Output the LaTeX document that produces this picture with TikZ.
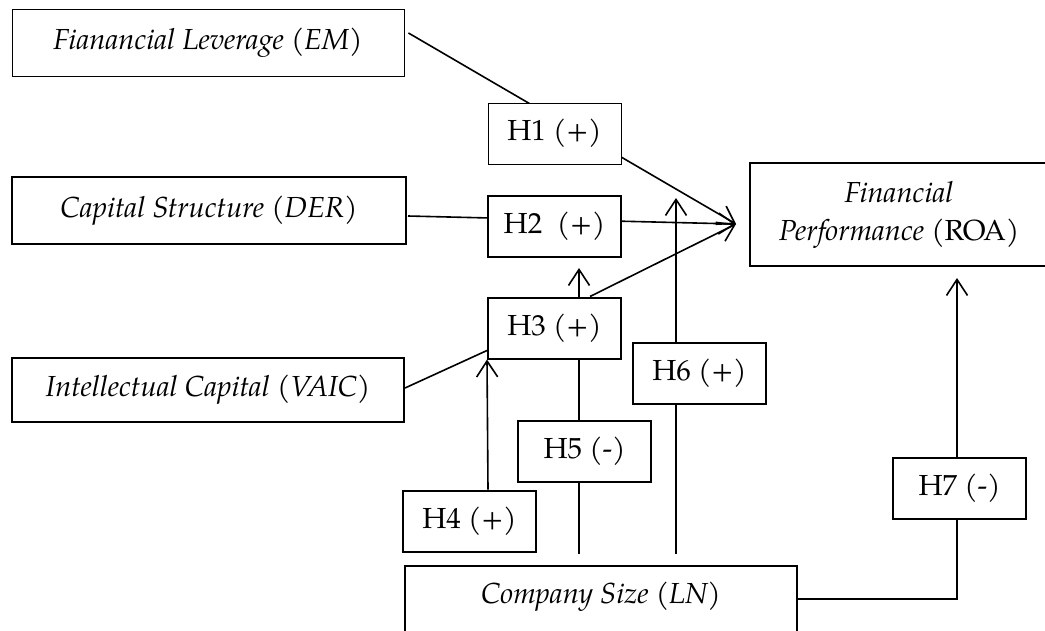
\documentclass[tikz,border=0pt]{standalone}
\usepackage{fontspec}
\setmainfont{TeX Gyre Pagella}
\usetikzlibrary{arrows.meta,backgrounds}
\begin{document}
\begin{tikzpicture}[x=1pt,y=-1pt,
  box/.style={draw, line width=2pt, fill=white, inner sep=0pt, align=center,
    font=\fontsize{29}{38}\selectfont},
  thinbox/.style={box, line width=0.9pt},
  hbox/.style={minimum width=133pt, minimum height=61pt},
  conn/.style={line width=1.6pt},
  arr/.style={conn, -{Straight Barb[length=16pt,width=21pt,line width=1.6pt]}}
]
\useasboundingbox (0,0) rectangle (1045,630);
\node[thinbox, minimum width=392pt, minimum height=67pt] (EM) at (208,42.5) {\textit{Fianancial Leverage (EM)}};
\node[box, minimum width=394pt, minimum height=67pt] (DER) at (209,210.5) {\textit{Capital Structure (DER)}};
\node[box, minimum width=392pt, minimum height=64pt] (VAIC) at (208,390) {\textit{Intellectual Capital (VAIC)}};
\node[thinbox, hbox] (H1) at (554.5,133.5) {H1 (+)};
\node[box, hbox] (H2) at (554.5,226.5) {H2\ \ (+)};
\node[box, hbox] (H3) at (554.5,328) {H3 (+)};
\node[box, hbox] (H4) at (469.5,521) {H4 (+)};
\node[box, hbox] (H5) at (584.5,451.5) {H5 (-)};
\node[box, hbox] (H6) at (699.5,373) {H6 (+)};
\node[box, hbox] (H7) at (959.5,488) {H7 (-)};
\node[box, minimum width=298pt, minimum height=103pt] (FP) at (899,214.5) {\textit{Financial}\\\textit{Performance} (ROA)};
\node[box, minimum width=392pt, text height=37pt, text depth=59pt, anchor=base] (CS) at (601,603) {\textit{Company Size (LN)}};
\coordinate (tip) at (736,224);
\coordinate (h6tip) at (676,198);
\coordinate (h7tip) at (957,278);
\begin{scope}[on background layer]
  \draw[arr] ([xshift=4pt,yshift=9.5pt]EM.east) -- (tip);
  \draw[arr] ([xshift=1pt,yshift=-5.5pt]DER.east) -- (tip);
  \draw[arr] ([xshift=35.5pt]H3.north) -- (tip);
  \draw[conn] ([yshift=2pt]VAIC.east) -- ([yshift=9pt]H3.south west);
  \draw[arr] ([xshift=24.5pt]H3.north) -- ([xshift=24.5pt,yshift=-10pt]H2.south);
  \draw[arr] ([xshift=18.5pt]H4.north) -- (H3.south west);
  \draw[conn] ([xshift=-22pt,yshift=11pt]CS.north) -- ([xshift=24.5pt]H3.south);
  \draw[arr] ([xshift=75pt,yshift=11pt]CS.north) -- (h6tip);
  \draw[arr] ([yshift=4pt]CS.base east) -| (h7tip);
\end{scope}
\end{tikzpicture}
\end{document}
